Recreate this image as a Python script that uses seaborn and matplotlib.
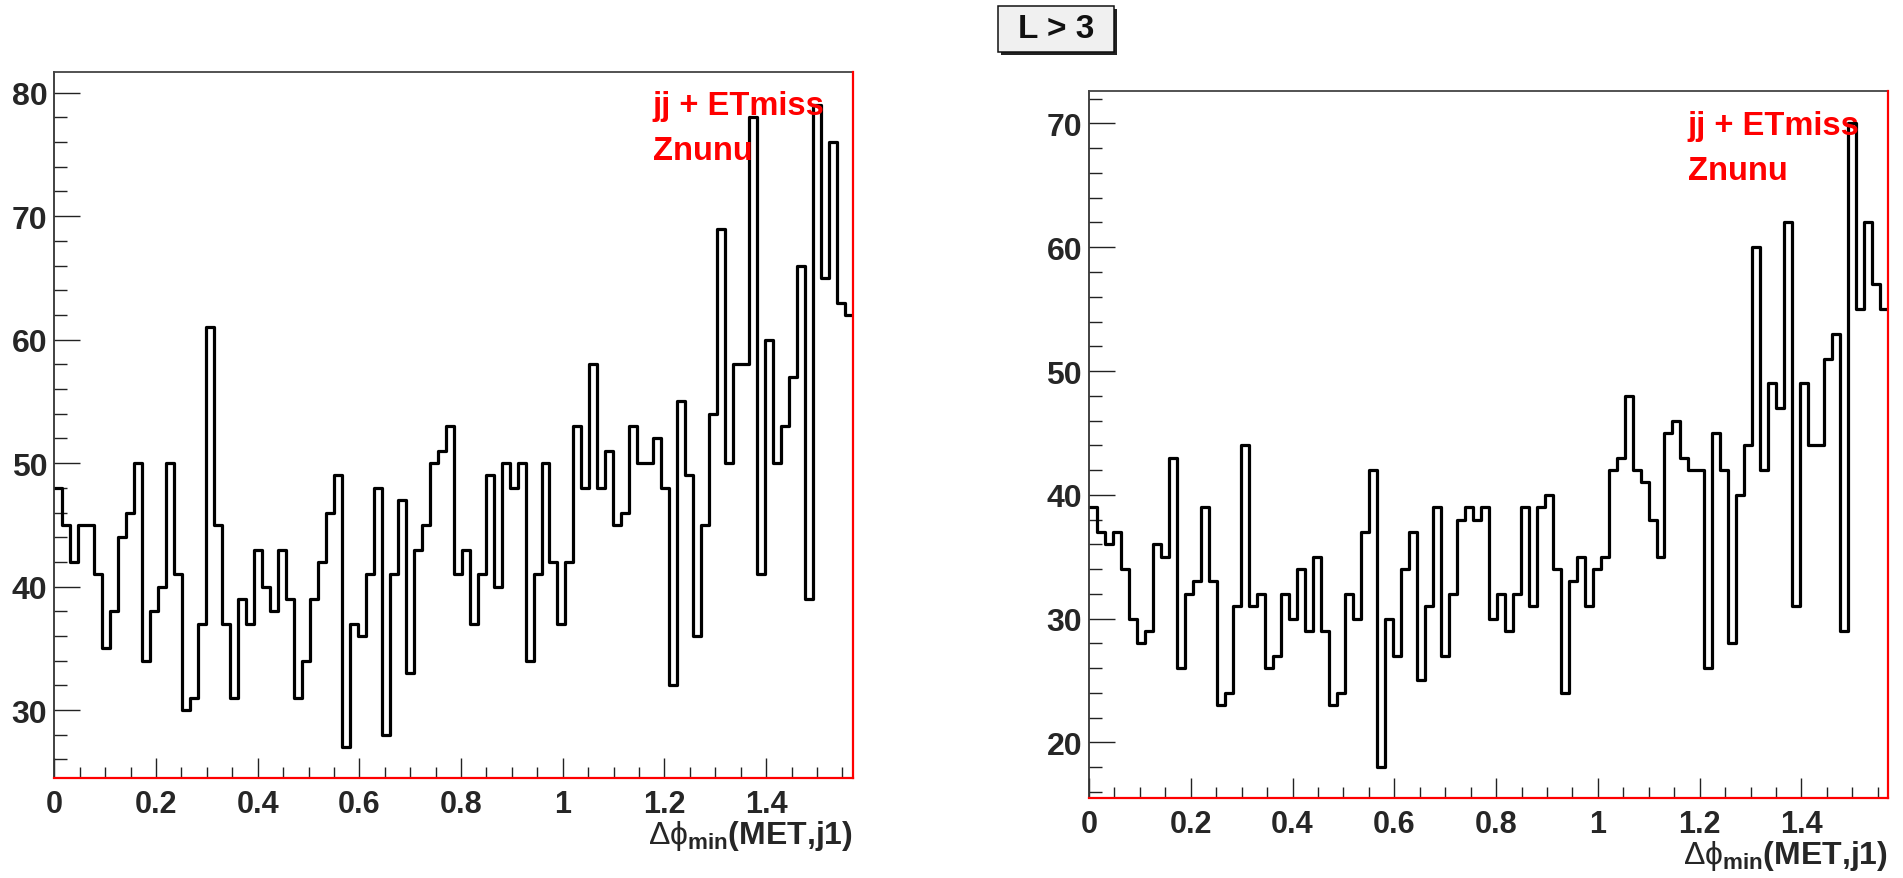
import numpy as np
import pandas as pd
import matplotlib
matplotlib.use("Agg")
import matplotlib.pyplot as plt
from matplotlib.patches import Rectangle
from matplotlib.ticker import MultipleLocator
import seaborn as sns

# Delta-phi_min(MET, j1) histograms, 100 bins on [0, pi/2]
n_bins = 100
phi_max = np.pi / 2

counts_left = [48, 45, 42, 45, 45, 41, 35, 38, 44, 46,
               50, 34, 38, 40, 50, 41, 30, 31, 37, 61,
               45, 37, 31, 39, 37, 43, 40, 38, 43, 39,
               31, 34, 39, 42, 46, 49, 27, 37, 36, 41,
               48, 28, 41, 47, 33, 43, 45, 50, 51, 53,
               41, 43, 37, 41, 49, 40, 50, 48, 50, 34,
               41, 50, 42, 37, 42, 53, 48, 58, 48, 51,
               45, 46, 53, 50, 50, 52, 48, 32, 55, 49,
               36, 45, 54, 69, 50, 58, 58, 78, 41, 60,
               50, 53, 57, 66, 39, 79, 65, 76, 63, 62]

counts_right = [39, 37, 36, 37, 34, 30, 28, 29, 36, 35,
                43, 26, 32, 33, 39, 33, 23, 24, 31, 44,
                31, 32, 26, 27, 32, 30, 34, 29, 35, 29,
                23, 24, 32, 30, 37, 42, 18, 30, 27, 34,
                37, 25, 31, 39, 27, 32, 38, 39, 38, 39,
                30, 32, 29, 32, 39, 31, 39, 40, 34, 24,
                33, 35, 31, 34, 35, 42, 43, 48, 42, 41,
                38, 35, 45, 46, 43, 42, 42, 26, 45, 42,
                28, 40, 44, 60, 42, 49, 47, 62, 31, 49,
                44, 44, 51, 53, 29, 70, 55, 62, 57, 55]

ylim_left = (24.5, 81.7)
ylim_right = (15.5, 72.6)

x_major_ticks = [0, 0.2, 0.4, 0.6, 0.8, 1.0, 1.2, 1.4]
x_tick_labels = ["0", "0.2", "0.4", "0.6", "0.8", "1", "1.2", "1.4"]

title_text = "L > 3"
tag_lines = ["jj + ETmiss", "Znunu"]
x_label = r"$\Delta\phi_{\mathregular{min}}$(MET,j1)"

sns.set_style("ticks")
plt.rcParams["font.family"] = ["Liberation Sans", "DejaVu Sans"]
plt.rcParams["mathtext.fontset"] = "custom"
plt.rcParams["mathtext.rm"] = "Liberation Sans"
plt.rcParams["mathtext.it"] = "Liberation Sans"
plt.rcParams["mathtext.bf"] = "Liberation Sans:bold"

W, H = 1903, 879
fig = plt.figure(figsize=(W / 100, H / 100), dpi=100)
fig.patch.set_facecolor("white")

edges = np.linspace(0, phi_max, n_bins + 1)
centers = 0.5 * (edges[:-1] + edges[1:])


def px_axes(x0, y0, x1, y1):
    """Axes from pixel box (left, top, right, bottom), origin top-left."""
    return fig.add_axes([x0 / W, 1 - y1 / H, (x1 - x0) / W, (y1 - y0) / H])


def draw_panel(ax, counts, ylim):
    df = pd.DataFrame({"dphi": centers, "entries": counts})
    sns.histplot(data=df, x="dphi", weights="entries", bins=edges.tolist(),
                 element="step", fill=False, color="black", linewidth=2.3,
                 ax=ax)
    ax.set_xlim(0, phi_max)
    ax.set_ylim(*ylim)
    ax.set_ylabel("")
    ax.set_facecolor("white")

    ax.set_xticks(x_major_ticks)
    ax.set_xticklabels(x_tick_labels)
    ax.xaxis.set_minor_locator(MultipleLocator(0.05))
    ax.yaxis.set_major_locator(MultipleLocator(10))
    ax.yaxis.set_minor_locator(MultipleLocator(2))

    ax.tick_params(axis="x", which="major", direction="in", length=14.5,
                   width=1.0, color="#222222", pad=8, labelsize=22)
    ax.tick_params(axis="x", which="minor", direction="in", length=8,
                   width=1.0, color="#222222")
    ax.tick_params(axis="y", which="major", direction="in", length=18.5,
                   width=1.0, color="#222222", pad=5, labelsize=23)
    ax.tick_params(axis="y", which="minor", direction="in", length=9.5,
                   width=1.0, color="#222222")
    for lab in ax.get_xticklabels() + ax.get_yticklabels():
        lab.set_fontweight("bold")

    ax.spines["left"].set_color("#333333")
    ax.spines["left"].set_linewidth(1.3)
    ax.spines["top"].set_color("#444444")
    ax.spines["top"].set_linewidth(1.3)
    for side in ("right", "bottom"):
        ax.spines[side].set_color("red")
        ax.spines[side].set_linewidth(1.6)
        ax.spines[side].set_zorder(5)

    ax.set_xlabel(x_label, fontsize=23, fontweight="bold")
    ax.xaxis.label.set_horizontalalignment("right")
    ax.xaxis.label.set_verticalalignment("top")
    ax.xaxis.set_label_coords(1.0, -0.057)

    ax.text(0.749, 0.940, tag_lines[0], transform=ax.transAxes, color="red",
            fontsize=23.5, fontweight="bold", ha="left", va="baseline",
            zorder=6)
    ax.text(0.749, 0.876, tag_lines[1], transform=ax.transAxes, color="red",
            fontsize=23.5, fontweight="bold", ha="left", va="baseline",
            zorder=6)


ax_left = px_axes(54.3, 72.7, 853, 779)
draw_panel(ax_left, counts_left, ylim_left)

ax_right = px_axes(1089, 92.3, 1888.3, 799)
draw_panel(ax_right, counts_right, ylim_right)

# title box with drop shadow
bx0, by0, bx1, by1 = 998, 7, 1114, 53
shadow = Rectangle(((bx0 + 3) / W, 1 - (by1 + 3) / H), (bx1 - bx0) / W,
                   (by1 - by0) / H, transform=fig.transFigure,
                   facecolor="#222222", edgecolor="none", zorder=1)
box = Rectangle((bx0 / W, 1 - by1 / H), (bx1 - bx0) / W, (by1 - by0) / H,
                transform=fig.transFigure, facecolor="#f0f0f0",
                edgecolor="#111111", linewidth=1.1, zorder=2)
fig.patches.extend([shadow, box])
fig.text((bx0 + bx1) / 2 / W, 1 - (by0 + by1) / 2 / H, title_text,
         ha="center", va="center", fontsize=24, fontweight="bold",
         color="#111111", zorder=3)

fig.savefig("out.png", dpi=100, facecolor="white")
